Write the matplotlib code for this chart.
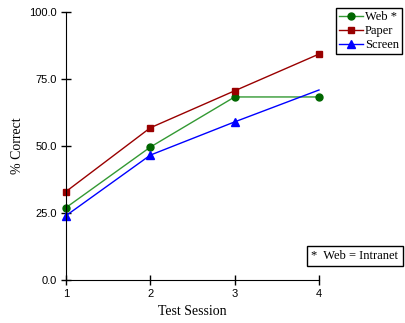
import matplotlib
matplotlib.use("Agg")
import matplotlib.pyplot as plt
from matplotlib.lines import Line2D

sessions = [1, 2, 3, 4]
web = [27.0, 49.6, 68.3, 68.3]
paper = [33.0, 56.8, 70.6, 84.3]
screen = [24.0, 46.6, 59.0, 70.9]
xticks = [1, 2, 3, 4]
yticks = [0.0, 25.0, 50.0, 75.0, 100.0]
ytick_labels = ["0.0", "25.0", "50.0", "75.0", "100.0"]

fig = plt.figure(figsize=(4.06, 3.23), dpi=100)
ax = fig.add_axes([66/406, 1-280/323, (319-66)/406, (280-12)/323])

serif = "Liberation Serif"
sans = "Liberation Sans"

ax.plot(sessions, web, color="#339933", lw=1, marker="o", ms=5,
        mfc="#006600", mec="#006600", label="Web *", clip_on=False)
ax.plot(sessions, paper, color="#990000", lw=1, marker="s", ms=5,
        mfc="#990000", mec="#990000", label="Paper", clip_on=False)
ax.plot(sessions[:3], screen[:3], color="#0000ff", lw=1, marker="^", ms=6,
        mfc="#0000ff", mec="#0000ff", clip_on=False)
ax.plot(sessions[2:], screen[2:], color="#0000ff", lw=1, clip_on=False)

ax.set_xlim(1, 4)
ax.set_ylim(0, 100)
ax.set_xticks(xticks)
ax.set_xticklabels([str(x) for x in xticks], fontfamily=sans, fontsize=8)
ax.set_yticks(yticks)
ax.set_yticklabels(ytick_labels, fontfamily=sans, fontsize=8)
ax.tick_params(direction="inout", length=7, width=1, colors="black", pad=3)
for s in ["top", "right"]:
    ax.spines[s].set_visible(False)
ax.set_xlabel("Test Session", fontfamily=serif, fontsize=10)
ax.set_ylabel("% Correct", fontfamily=serif, fontsize=10)

handles = [
    Line2D([], [], color="#339933", lw=1, marker="o", ms=5, mfc="#006600", mec="#006600"),
    Line2D([], [], color="#990000", lw=1, marker="s", ms=5, mfc="#990000", mec="#990000"),
    Line2D([], [], color="#0000ff", lw=1, marker="^", ms=6, mfc="#0000ff", mec="#0000ff"),
]
leg = fig.legend(handles, ["Web *", "Paper", "Screen"], loc="upper left",
                 bbox_to_anchor=(336/406, 1-8/323), frameon=True, fancybox=False,
                 edgecolor="black", framealpha=1, handlelength=1.9, handletextpad=0.15,
                 borderpad=0.25, labelspacing=0.15, borderaxespad=0,
                 prop={"family": serif, "size": 9})
leg.get_frame().set_linewidth(1)

fig.text(355/406, 1-256/323, "*  Web = Intranet", fontfamily=serif, fontsize=9,
         ha="center", va="center",
         bbox=dict(boxstyle="square,pad=0.35", fc="white", ec="black", lw=1))

fig.savefig("out.png", dpi=100)
